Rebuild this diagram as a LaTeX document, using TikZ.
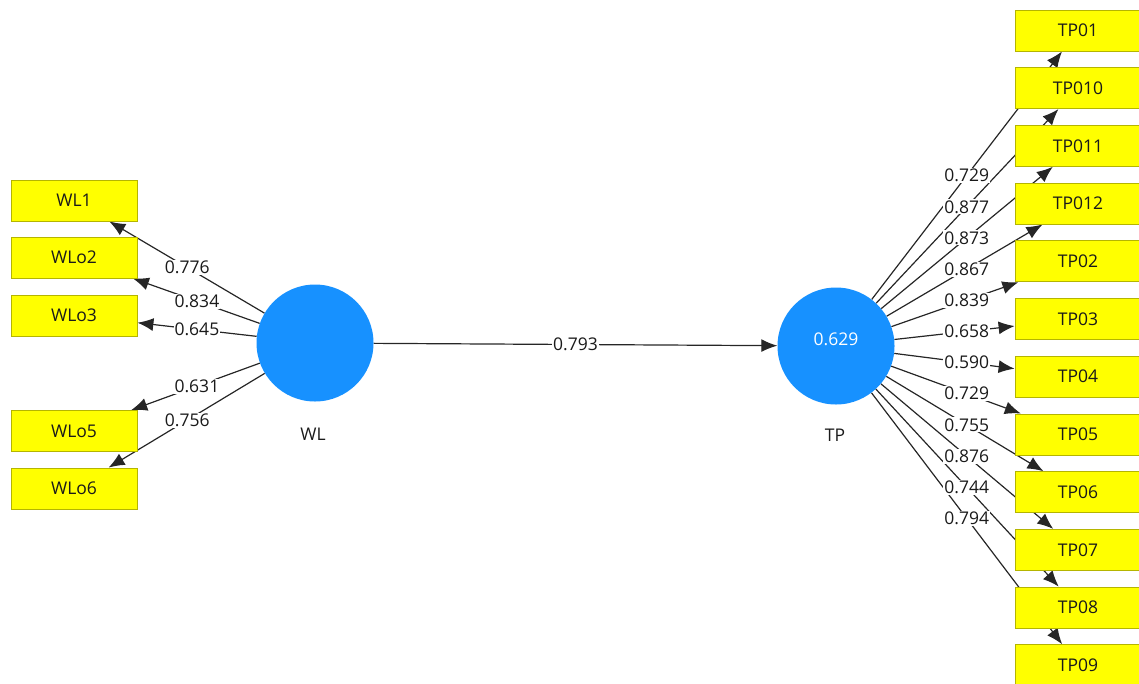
\documentclass[tikz,border=0pt]{standalone}
\usepackage{fontspec}
\setmainfont{Open Sans}
\usetikzlibrary{arrows.meta,calc}
\pgfdeclarelayer{background}
\pgfsetlayers{background,main}
\definecolor{boxyellow}{HTML}{FFFF00}
\definecolor{boxedge}{HTML}{B5B500}
\definecolor{lvblue}{HTML}{1791FF}
\definecolor{edgegray}{HTML}{262626}
\definecolor{txtdark}{HTML}{1A1A1A}
\begin{document}
\begin{tikzpicture}[x=1pt,y=-1pt,
  ind/.style={rectangle, draw=boxedge, line width=0.8pt, fill=boxyellow, minimum width=126pt, minimum height=41pt, inner sep=0pt, font=\fontsize{17.5}{20}\selectfont, text=txtdark},
  lv/.style={circle, fill=lvblue, minimum size=117pt, inner sep=0pt},
  conn/.style={draw=edgegray, line width=1.2pt, -{Latex[length=16pt,width=13pt]}},
  lbl/.style={fill=white, inner sep=1pt, font=\fontsize{17.5}{20}\selectfont, text=txtdark},
  lvname/.style={font=\fontsize{17.5}{20}\selectfont, text=txtdark}]
\useasboundingbox (0,0) rectangle (1139,683);
% latent variables
\node[lv] (WL) at (315,343) {};
\node[lv] (TP) at (836,346) {};
\node[font=\fontsize{17.5}{20}\selectfont, text=white] (TPr2) at (836,339) {0.629};
\node[lvname] (WLname) at (313,434) {WL};
\node[lvname] (TPname) at (835,435) {TP};
% left indicators
\node[ind] (WL1)  at (74,200.5) {WL1};
\node[ind] (WLo2) at (74,257.5) {WLo2};
\node[ind] (WLo3) at (74,315.5) {WLo3};
\node[ind] (WLo5) at (74,431) {WLo5};
\node[ind] (WLo6) at (74,488.5) {WLo6};
% right indicators
\node[ind] (TP01)  at (1078,30.5) {TP01};
\node[ind] (TP010) at (1078,88.2) {TP010};
\node[ind] (TP011) at (1078,145.9) {TP011};
\node[ind] (TP012) at (1078,203.6) {TP012};
\node[ind] (TP02)  at (1078,261.3) {TP02};
\node[ind] (TP03)  at (1078,319) {TP03};
\node[ind] (TP04)  at (1078,376.7) {TP04};
\node[ind] (TP05)  at (1078,434.4) {TP05};
\node[ind] (TP06)  at (1078,492.1) {TP06};
\node[ind] (TP07)  at (1078,549.8) {TP07};
\node[ind] (TP08)  at (1078,607.5) {TP08};
\node[ind] (TP09)  at (1078,665.2) {TP09};
% structural path
\begin{pgfonlayer}{background}
\draw[conn] (WL) -- (TP);
\end{pgfonlayer}
\node[lbl] (p1) at ($(WL.center)!0.5!(TP.center)$) {0.793};
% outer loadings WL
\foreach \n/\v/\t in {WL1/0.776/0.53, WLo2/0.834/0.49, WLo3/0.645/0.49, WLo5/0.631/0.49, WLo6/0.756/0.53}{
  \begin{pgfonlayer}{background}
  \draw[conn] (WL) -- (\n);
  \end{pgfonlayer}
  \node[lbl] (l\n) at ($(WL.center)!\t!(\n.center)$) {\v};
}
% outer loadings TP
\foreach \n/\v in {TP01/0.729, TP010/0.877, TP011/0.873, TP012/0.867, TP02/0.839, TP03/0.658, TP04/0.590, TP05/0.729, TP06/0.755, TP07/0.876, TP08/0.744, TP09/0.794}{
  \begin{pgfonlayer}{background}
  \draw[conn] (TP) -- (\n);
  \end{pgfonlayer}
  \node[lbl] (l\n) at ($(TP.center)!0.54!(\n.center)$) {\v};
}
\end{tikzpicture}
\end{document}
